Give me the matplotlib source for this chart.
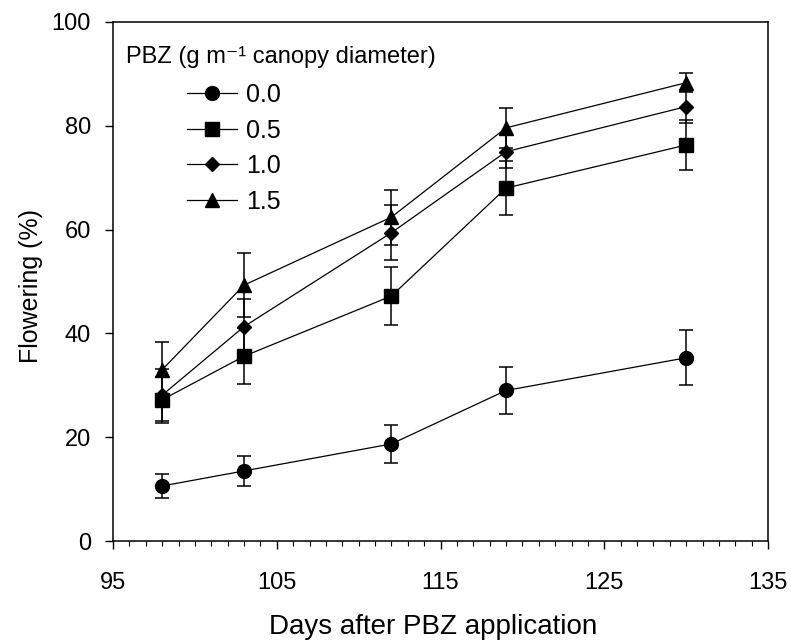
import matplotlib
matplotlib.use("Agg")
import matplotlib.pyplot as plt
from matplotlib.lines import Line2D
import numpy as np

plt.rcParams['font.family'] = ['Liberation Sans', 'DejaVu Sans']

days = [98, 103, 112, 119, 130]
labels = ["0.0", "0.5", "1.0", "1.5"]
y_00 = [10.6, 13.5, 18.7, 29.0, 35.3]
e_00 = [2.4, 2.9, 3.6, 4.6, 5.3]
y_05 = [27.2, 35.6, 47.2, 68.0, 76.3]
e_05 = [4.4, 5.4, 5.6, 5.2, 4.8]
y_10 = [28.1, 41.3, 59.4, 75.0, 83.7]
e_10 = [5.0, 5.4, 5.3, 3.2, 3.1]
y_15 = [33.0, 49.3, 62.4, 79.6, 88.3]
e_15 = [5.4, 6.1, 5.3, 3.8, 1.8]

series = [(y_00, e_00, 'o', 10), (y_05, e_05, 's', 9.5),
          (y_10, e_10, 'D', 7), (y_15, e_15, '^', 10.5)]

fig = plt.figure(figsize=(7.91, 6.41), dpi=100)
ax = fig.add_axes([113 / 791, 100 / 641, 655 / 791, 519 / 641])

for (yv, ev, mk, ms), lab in zip(series, labels):
    ax.errorbar(days, yv, yerr=ev, fmt='-', color='black', marker=mk,
                markersize=ms, linewidth=0.9, elinewidth=1.1,
                capsize=4.7, capthick=1.1, label=lab)

ax.set_xlim(95, 135)
ax.set_ylim(0, 100)
ax.set_xticks([95, 105, 115, 125, 135])
ax.set_xticks(np.arange(95, 136, 1), minor=True)
ax.set_yticks([0, 20, 40, 60, 80, 100])
ax.tick_params(axis='both', which='major', direction='out', length=6,
               width=1.0, labelsize=17)
ax.tick_params(axis='x', which='major', pad=16)
ax.tick_params(axis='y', which='major', pad=10)
ax.tick_params(axis='x', which='minor', direction='out', length=3.6, width=0.8)
for s in ax.spines.values():
    s.set_linewidth(1.1)

ax.set_xlabel('Days after PBZ application', fontsize=20)
ax.xaxis.set_label_coords(0.489, -0.140)
ax.set_ylabel('Flowering (%)', fontsize=18)
ax.yaxis.set_label_coords(-0.107, 0.491)

ax.text(0.0198, 0.921, 'PBZ (g m\u207b\u00b9 canopy diameter)', transform=ax.transAxes,
        fontsize=17, ha='left', va='baseline')

leg_handles = [Line2D([0], [0], color='black', linewidth=0.9, marker=mk,
                      markersize=ms) for (_, _, mk, ms) in series]
ax.legend(leg_handles, labels, loc='upper left', bbox_to_anchor=(0.113, 0.882),
          frameon=False, fontsize=18, handlelength=2.0, handletextpad=0.36,
          labelspacing=0.46, borderaxespad=0, borderpad=0)

fig.savefig('out.png', dpi=100)
